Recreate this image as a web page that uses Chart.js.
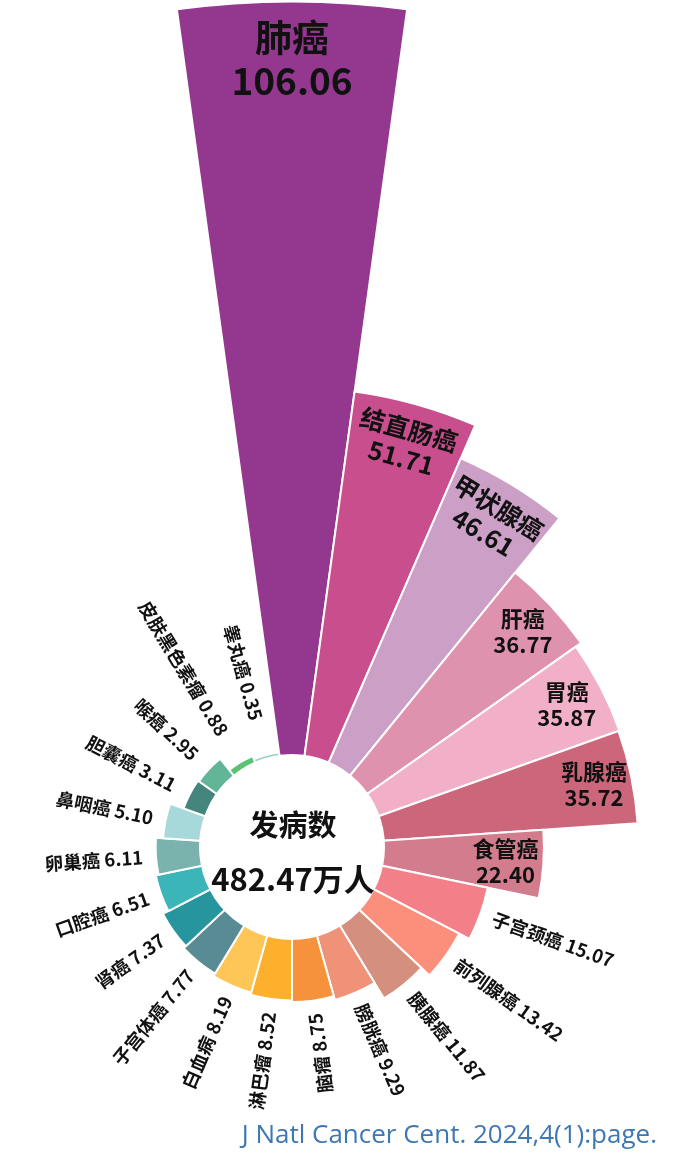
<!DOCTYPE html>
<html>
<head>
<meta charset="utf-8">
<script src="https://cdn.jsdelivr.net/npm/chart.js@4.4.1/dist/chart.umd.min.js"></script>
<style>
  html, body { margin: 0; padding: 0; background: #fff; }
  #wrap { position: relative; width: 676px; height: 1171px; }
</style>
</head>
<body>
<div id="wrap"><canvas id="c"></canvas></div>
<script>
// ---- data ----
const categories = ['肺癌','结直肠癌','甲状腺癌','肝癌','胃癌','乳腺癌','食管癌','子宫颈癌','前列腺癌','胰腺癌','膀胱癌','脑瘤','淋巴瘤','白血病','子宫体癌','肾癌','口腔癌','卵巢癌','鼻咽癌','胆囊癌','喉癌','皮肤黑色素瘤','睾丸癌'];
const values = [106.06, 51.71, 46.61, 36.77, 35.87, 35.72, 22.40, 15.07, 13.42, 11.87, 9.29, 8.75, 8.52, 8.19, 7.77, 7.37, 6.51, 6.11, 5.10, 3.11, 2.95, 0.88, 0.35];
const colors = ['#94388f','#c94e8d','#cb9fc6','#df92ae','#f1b0c7','#cc667a','#d27c8e','#f38089','#fb8f7c','#d48f7f','#ef9277','#f6923b','#fdb02b','#fdc657','#588b94','#27959e','#3cb5b8','#7ab3ae','#a7d8da','#44857d','#63b597','#5cc273','#8fd1b8'];
const centerTitle = '发病数';
const centerValue = '482.47万人';
const citation = 'J Natl Cancer Cent. 2024,4(1):page.';

// ---- layout constants ----
const DRAWING_AREA = 292;       // radius the r-scale gets from the layout below
const RADIUS_AT_ZERO = 93;      // inner hole radius
const PX_PER_UNIT = 7.095;
const rMin = -RADIUS_AT_ZERO / PX_PER_UNIT;
const rMax = rMin + DRAWING_AREA / PX_PER_UNIT;
const FONT = '"Noto Sans CJK SC", "Noto Sans", sans-serif';
const TAU = Math.PI * 2;

const labelPlugin = {
  id: 'roseLabels',
  afterDatasetsDraw(chart) {
    const ctx = chart.ctx;
    const meta = chart.getDatasetMeta(0);
    const scale = chart.scales.r;
    const cx = scale.xCenter, cy = scale.yCenter;
    const r0 = scale.getDistanceFromCenterForValue(0);
    ctx.save();
    ctx.beginPath();
    ctx.arc(cx, cy, r0, 0, TAU);
    ctx.fillStyle = '#fff';
    ctx.fill();
    ctx.fillStyle = '#111';
    ctx.textAlign = 'center';
    ctx.textBaseline = 'middle';
    ctx.font = 'bold 29px ' + FONT;
    ctx.fillText(centerTitle, cx + 1, cy - 22);
    ctx.font = 'bold 31px ' + FONT;
    ctx.fillText(centerValue, cx + 1, cy + 32);

    meta.data.forEach((arc, i) => {
      const p = arc.getProps(['startAngle', 'endAngle', 'outerRadius'], true);
      const mid = (p.startAngle + p.endAngle) / 2;
      let phi = (mid + Math.PI / 2) % TAU; // clockwise angle from top
      if (phi < 0) phi += TAU;
      const name = categories[i];
      const val = values[i].toFixed(2);
      ctx.save();
      ctx.fillStyle = '#111';
      if (i < 7) {
        let fs, gap, off, rot;
        if (i === 0) { fs = 37; gap = 43; off = 58; rot = true; }
        else if (i < 3) { fs = 25; gap = 29; off = 41; rot = true; }
        else { fs = 22; gap = 26; off = 38; rot = false; }
        const r = p.outerRadius - off;
        ctx.translate(cx + Math.cos(mid) * r, cy + Math.sin(mid) * r);
        if (rot) ctx.rotate(phi);
        ctx.textAlign = 'center';
        ctx.textBaseline = 'middle';
        ctx.font = 'bold ' + fs + 'px ' + FONT;
        ctx.fillText(name, 0, -gap / 2);
        ctx.fillText(val, 0, gap / 2);
      } else {
        const r = Math.max(p.outerRadius + 13, 132);
        ctx.translate(cx + Math.cos(mid) * r, cy + Math.sin(mid) * r);
        const deg = phi * 180 / Math.PI;
        ctx.font = 'bold 18.5px ' + FONT;
        ctx.textBaseline = 'middle';
        if (deg < 165) {
          ctx.rotate(phi - Math.PI / 2);
          ctx.textAlign = 'left';
        } else {
          ctx.rotate(phi + Math.PI / 2);
          ctx.textAlign = 'right';
        }
        ctx.fillText(name + ' ' + val, 0, 0);
      }
      ctx.restore();
    });

    ctx.fillStyle = '#3d78b4';
    ctx.font = '26px "Open Sans", "Noto Sans", sans-serif';
    ctx.textAlign = 'right';
    ctx.textBaseline = 'alphabetic';
    ctx.fillText(citation, 657, 1143);
    ctx.restore();
  }
};

new Chart(document.getElementById('c'), {
  type: 'polarArea',
  data: {
    labels: categories,
    datasets: [{
      data: values,
      backgroundColor: colors,
      borderColor: '#ffffff',
      borderWidth: 2,
      clip: false
    }]
  },
  options: {
    responsive: true,
    maintainAspectRatio: false,
    animation: false,
    events: [],
    layout: { padding: { left: 0, right: 91, top: 523, bottom: 0 } },
    plugins: { legend: { display: false }, tooltip: { enabled: false } },
    scales: {
      r: {
        min: rMin,
        max: rMax,
        startAngle: -180 / categories.length,
        grid: { display: false },
        angleLines: { display: false },
        ticks: { display: false },
        pointLabels: { display: false }
      }
    }
  },
  plugins: [labelPlugin]
});
</script>
</body>
</html>
